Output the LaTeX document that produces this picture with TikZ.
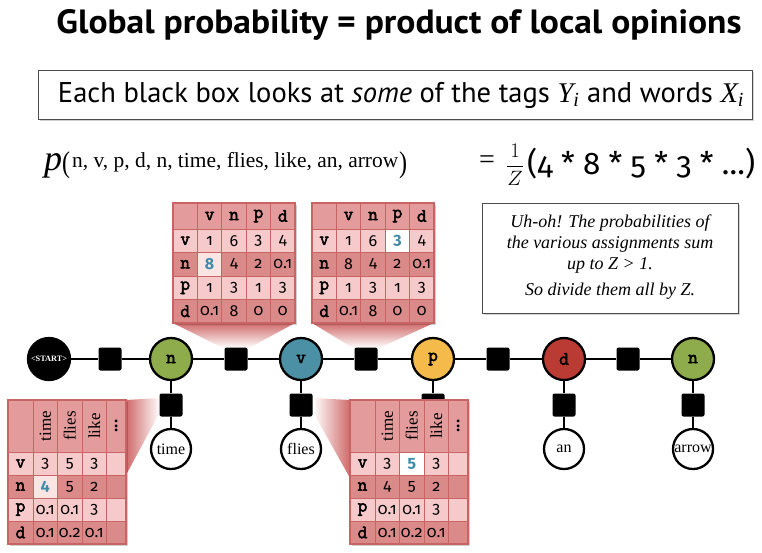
\documentclass[tikz,border=0pt]{standalone}
\usepackage{fontspec}
\usepackage{graphicx}
\setmainfont{Liberation Serif}
\newfontfamily\sansf[Numbers=OldStyle]{Fira Sans}
\newfontfamily\titlef{PT Sans}
\newfontfamily\monof[FakeBold=2.5]{Latin Modern Mono}
\usetikzlibrary{shadows}
\definecolor{hdrc}{HTML}{E39B9B}
\definecolor{lightc}{HTML}{F6CACA}
\definecolor{darkc}{HTML}{DB8A8A}
\definecolor{bordc}{HTML}{C96464}
\definecolor{hlc}{HTML}{FBE4E4}
\definecolor{bluec}{HTML}{3D8CAA}
\definecolor{wedgec}{HTML}{D06A6A}
\definecolor{greenc}{HTML}{8EAC4C}
\definecolor{tealc}{HTML}{4C90A6}
\definecolor{yellowc}{HTML}{F4BA4A}
\definecolor{redc}{HTML}{B93B34}
\newcommand\lblf{\monof\bfseries\fontsize{19}{19}\selectfont}
\newcommand\wordf{\rmfamily\fontsize{16}{16}\selectfont}
\newcommand\hdrf{\rmfamily\fontsize{17}{17}\selectfont}
\newcommand\tcell[7]{\node[tcellsty,fill=#6,minimum width=#4pt,minimum height=#5pt] (#1) at ({#2+#4/2},{#3+#5/2}) {#7};}
\newcommand\toptable[2]{%
  \fill[black,opacity=0.18] ({#2+2},205) rectangle ({#2+124},325);
  \tcell{#1-c}{#2}{203}{24.4}{26}{hdrc}{}
  \foreach \lab [count=\i] in {v,n,p,d} {
    \tcell{#1-h\i}{#2+24.4*\i}{203}{24.4}{26}{hdrc}{\lblf\lab}
  }
  \foreach \lab/\fc/\va/\vb/\vc/\vd [count=\i] in {v/lightc/1/6/3/4,n/darkc/8/4/2/0.1,p/lightc/1/3/1/3,d/darkc/0.1/8/0/0}{
    \pgfmathsetmacro\yy{229+23.5*(\i-1)}
    \tcell{#1-\i-0}{#2}{\yy}{24.4}{23.5}{\fc}{\lblf\lab}
    \tcell{#1-\i-1}{#2+24.4}{\yy}{24.4}{23.5}{\fc}{\va}
    \tcell{#1-\i-2}{#2+48.8}{\yy}{24.4}{23.5}{\fc}{\vb}
    \tcell{#1-\i-3}{#2+73.2}{\yy}{24.4}{23.5}{\fc}{\vc}
    \tcell{#1-\i-4}{#2+97.6}{\yy}{24.4}{23.5}{\fc}{\vd}
  }
  \draw[bordc,line width=1.2pt] (#2,203) rectangle ({#2+122},323);
}
\newcommand\bottable[2]{%
  \fill[black,opacity=0.18] ({#2+2},402) rectangle ({#2+120},546);
  \tcell{#1-c}{#2}{400}{25}{52}{hdrc}{}
  \tcell{#1-h1}{#2+25}{400}{24.5}{52}{hdrc}{\rotatebox{90}{\hdrf time}}
  \tcell{#1-h2}{#2+49.5}{400}{24.5}{52}{hdrc}{\rotatebox{90}{\hdrf flies}}
  \tcell{#1-h3}{#2+74}{400}{24.5}{52}{hdrc}{\rotatebox{90}{\hdrf like}}
  \tcell{#1-h4}{#2+98.5}{400}{19.5}{52}{hdrc}{\rotatebox{90}{\hdrf\bfseries ...}}
  \foreach \lab/\fc/\va/\vb/\vc [count=\i] in {v/lightc/3/5/3,n/darkc/4/5/2,p/lightc/0.1/0.1/3,d/darkc/0.1/0.2/0.1}{
    \pgfmathsetmacro\yy{452+23*(\i-1)}
    \tcell{#1-\i-0}{#2}{\yy}{25}{23}{\fc}{\lblf\lab}
    \tcell{#1-\i-1}{#2+25}{\yy}{24.5}{23}{\fc}{\va}
    \tcell{#1-\i-2}{#2+49.5}{\yy}{24.5}{23}{\fc}{\vb}
    \tcell{#1-\i-3}{#2+74}{\yy}{24.5}{23}{\fc}{\vc}
    \tcell{#1-\i-4}{#2+98.5}{\yy}{19.5}{23}{\fc}{}
  }
  \draw[bordc,line width=1.2pt] (#2,400) rectangle ({#2+118},544);
}
\tikzset{
  tagnode/.style={circle,draw=black,line width=2.3pt,minimum size=42pt,inner sep=0pt,font=\lblf},
  wordnode/.style={circle,draw=black,line width=2.3pt,fill=white,minimum size=40pt,inner sep=0pt,font=\wordf},
  factor/.style={rectangle,rounded corners=2pt,fill=black,minimum size=23pt,inner sep=0pt},
  chainline/.style={line width=2pt},
  tcellsty/.style={rectangle,draw=bordc,line width=0.8pt,inner sep=0pt,font=\sansf\fontsize{16}{16}\selectfont},
  plainbox/.style={rectangle,draw=black!70,line width=1pt,fill=white,inner sep=0pt,
    drop shadow={opacity=0.35,shadow xshift=2pt,shadow yshift=-2pt}},
}
\begin{document}
\begin{tikzpicture}[x=1pt,y=-1pt]
\useasboundingbox (0,0) rectangle (762,552);
\fill[white] (0,0) rectangle (762,552);
% title
\node (title) at (399,25) {\resizebox{685pt}{24pt}{\titlef\bfseries Global probability = product of local opinions}};
% header box
\node[plainbox,minimum width=714pt,minimum height=49pt] (hbox) at (395,94.5) {};
\node (htext) at (401,95) {\resizebox{686pt}{!}{\titlef\fontsize{27}{27}\selectfont Each black box looks at \textit{some} of the tags {\rmfamily\itshape Y\textsubscript{i}} and words {\rmfamily\itshape X\textsubscript{i}}}};
% equation
\node[anchor=base west,inner sep=0pt] (peq) at (44,170) {\fontsize{36}{36}\selectfont\itshape p};
\node[anchor=base west,inner sep=0pt] (lpar) at (62,172) {\scalebox{0.8}[1]{\fontsize{30}{30}\selectfont(}};
\node[anchor=base west,inner sep=0pt] (args) at (72,167.5) {\resizebox{326pt}{!}{\fontsize{20}{20}\selectfont n, v, p, d, n, time, flies, like, an, arrow}};
\node[anchor=base west,inner sep=0pt] (rpar) at (399,172) {\scalebox{0.8}[1]{\fontsize{30}{30}\selectfont)}};
\node (eq) at (487,162) {\fontsize{28}{28}\selectfont =};
\node (frac) at (515,165) {\fontsize{22}{22}\selectfont$\displaystyle\frac{1}{Z}$};
\node[anchor=west,inner sep=0pt] (rhs) at (527,164) {\resizebox{228pt}{!}{\sansf\fontsize{30}{30}\selectfont(4 * 8 * 5 * 3 * …)}};
% note box
\node[plainbox,minimum width=256pt,minimum height=110pt] (note) at (610,258) {};
\node[align=center,font=\rmfamily\itshape\fontsize{18}{21}\selectfont] (notetext) at (610,257) {Uh-oh! The probabilities of\\the various assignments sum\\up to Z > 1.\\[5pt]So divide them all by Z.};
% wedges
\shade[top color=wedgec,bottom color=white] (173,323) -- (295,323) -- (249,348) -- (223,348) -- cycle;
\shade[top color=wedgec,bottom color=white] (312,323) -- (434,323) -- (379,348) -- (353,348) -- cycle;
\shade[left color=wedgec,right color=white] (126,400) -- (160,398) -- (160,412) -- (126,475) -- cycle;
\shade[right color=wedgec,left color=white] (350,400) -- (313,398) -- (313,412) -- (350,478) -- cycle;
% chain
\node[tagnode,fill=black] (start) at (49,359) {\resizebox{36pt}{!}{\rmfamily\bfseries\color{white}<START>}};
\node[tagnode,fill=greenc] (y1) at (171,359) {n};
\node[tagnode,fill=tealc] (y2) at (301,359) {v};
\node[tagnode,fill=yellowc] (y3) at (433,359) {p};
\node[tagnode,fill=redc] (y4) at (564,359) {d};
\node[tagnode,fill=greenc] (y5) at (693,359) {n};
\node[factor] (f0) at (110,359) {};
\node[factor] (f1) at (236,359) {};
\node[factor] (f2) at (366,359) {};
\node[factor] (f3) at (498,359) {};
\node[factor] (f4) at (628,359) {};
\node[factor] (g1) at (171,405) {};
\node[factor] (g2) at (301,405) {};
\node[factor] (g3) at (433,405) {};
\node[factor] (g4) at (564,405) {};
\node[factor] (g5) at (693,405) {};
\node[wordnode] (w1) at (171,449) {\makebox[0pt]{time}};
\node[wordnode] (w2) at (301,449) {\makebox[0pt]{flies}};
\node[wordnode] (w4) at (564,449) {\makebox[0pt]{an}};
\node[wordnode] (w5) at (693,449) {\makebox[0pt]{arrow}};
\draw[chainline] (start) -- (f0) -- (y1) -- (f1) -- (y2) -- (f2) -- (y3) -- (f3) -- (y4) -- (f4) -- (y5);
\foreach \k in {1,2,4,5} { \draw[chainline] (y\k) -- (g\k) -- (w\k); }
\draw[chainline] (y3) -- (g3);
% tables
\toptable{A}{173}
\tcell{A-hl}{173+24.4}{252.5}{24.4}{23.5}{hlc}{\color{bluec}\bfseries 8}
\toptable{B}{312}
\tcell{B-hl}{312+73.2}{229}{24.4}{23.5}{white}{\color{bluec}\bfseries 3}
\bottable{C}{8}
\tcell{C-hl}{8+25}{475}{24.5}{23}{hlc}{\color{bluec}\bfseries 4}
\bottable{D}{350}
\tcell{D-hl}{350+49.5}{452}{24.5}{23}{white}{\color{bluec}\bfseries 5}
\end{tikzpicture}
\end{document}
